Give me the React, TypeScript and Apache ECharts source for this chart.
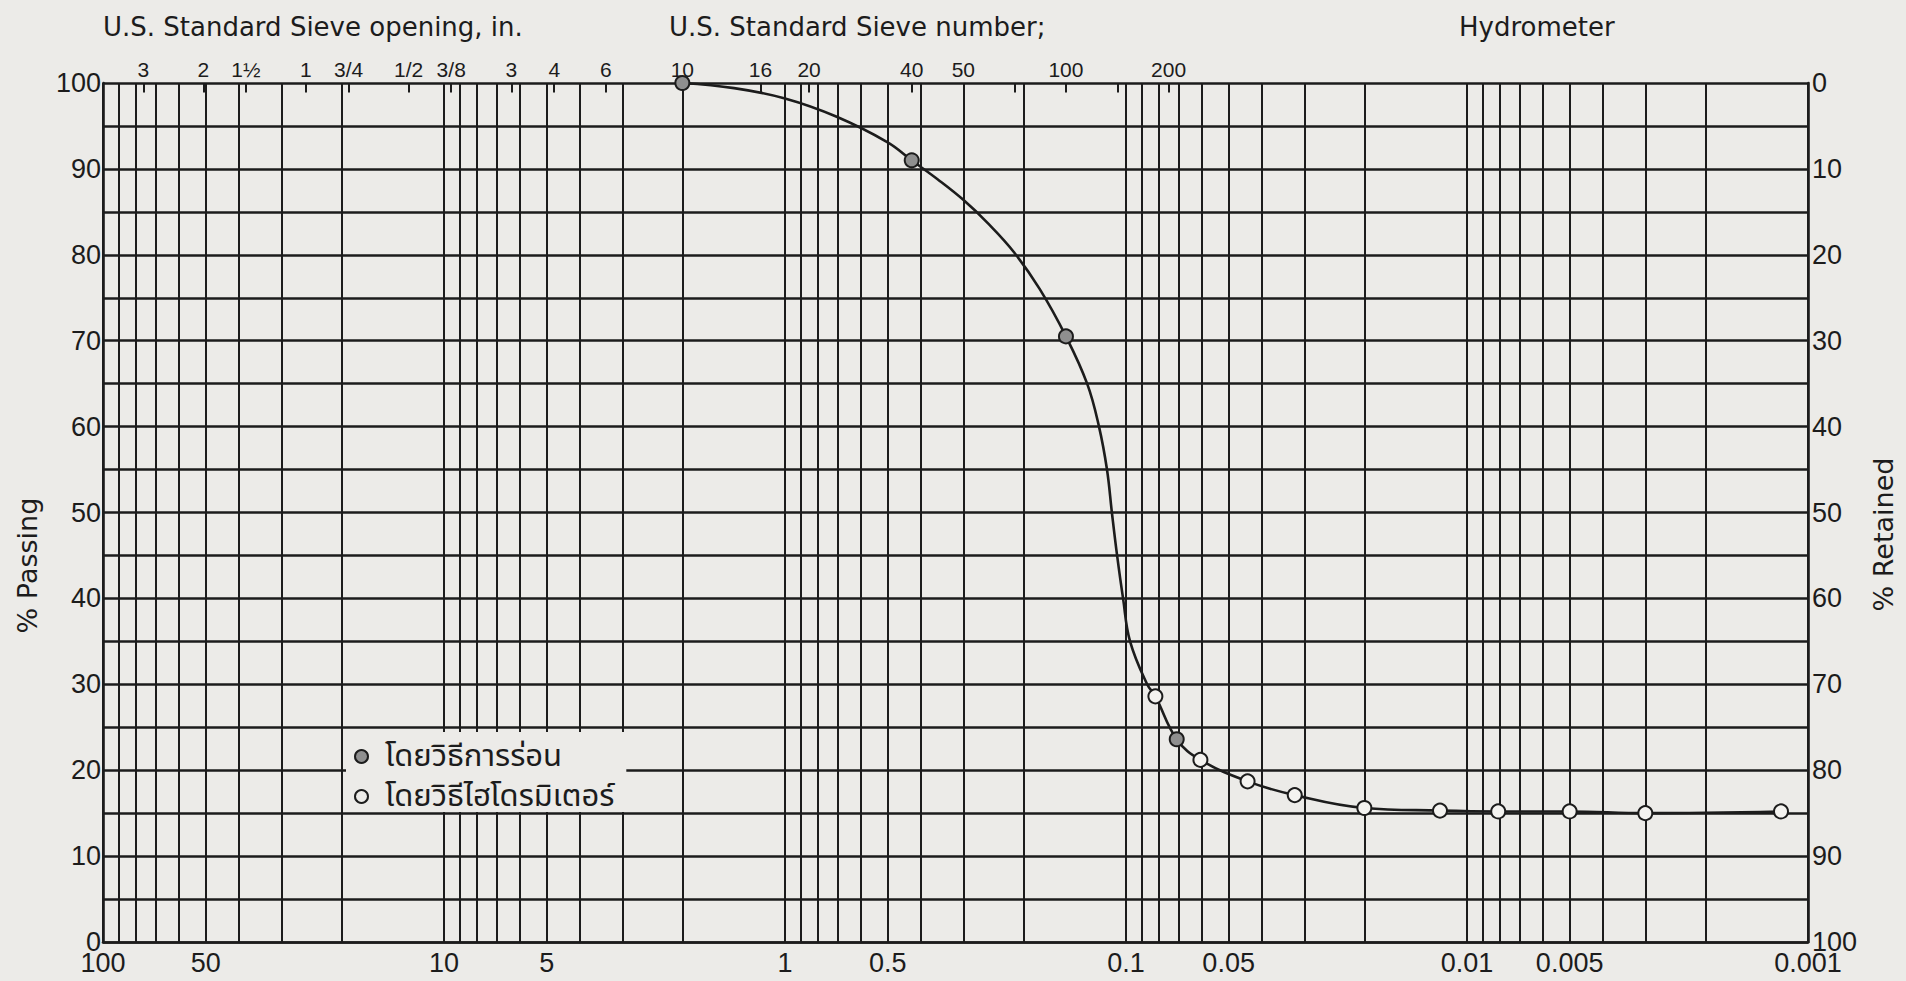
import React, { useEffect, useRef } from 'react';
import * as echarts from 'echarts';

// ---------- data ----------
// grain size (mm) vs % passing
const sieveSize = [2.0, 0.425, 0.15, 0.071];
const sievePassing = [100, 91.0, 70.5, 23.6];

const hydroSize = [0.082, 0.0605, 0.044, 0.032, 0.02, 0.012, 0.0081, 0.005, 0.003, 0.0012];
const hydroPassing = [28.6, 21.2, 18.7, 17.1, 15.6, 15.3, 15.2, 15.2, 15.0, 15.2];

// hand-drawn grading curve
const curveSize = [2.0, 1.41, 1.0, 0.708, 0.5, 0.425, 0.357, 0.3, 0.253, 0.213, 0.179, 0.15, 0.13, 0.12, 0.1137, 0.11, 0.1062, 0.102, 0.0973, 0.0867, 0.082, 0.071, 0.0605, 0.044, 0.032, 0.02, 0.012, 0.0081, 0.005, 0.003, 0.0012];
const curvePassing = [100, 99.4, 98.2, 96.1, 93.1, 91.0, 88.8, 86.4, 83.6, 80.3, 76.0, 70.5, 65.0, 60.0, 55.0, 50.0, 45.0, 40.0, 35.0, 30.0, 28.6, 23.6, 21.2, 18.7, 17.1, 15.6, 15.3, 15.2, 15.2, 15.0, 15.2];

// bottom axis (grain size, mm)
const bottomLabelValues = [100, 50, 10, 5, 1, 0.5, 0.1, 0.05, 0.01, 0.005, 0.001];
const bottomLabels = ['100', '50', '10', '5', '1', '0.5', '0.1', '0.05', '0.01', '0.005', '0.001'];

// top axis: U.S. standard sieve openings (mm) and their labels
const sieveTickValues = [76.2, 50.8, 38.1, 25.4, 19.05, 12.7, 9.525, 6.35, 4.75, 3.35, 2.0, 1.18, 0.85, 0.6, 0.425, 0.3, 0.212, 0.15, 0.106, 0.075];
const sieveTickLabels = ['3', '2', '1½', '1', '3/4', '1/2', '3/8', '3', '4', '6', '10', '16', '20', '', '40', '50', '', '100', '', '200'];

const yTicks = [0, 10, 20, 30, 40, 50, 60, 70, 80, 90, 100];

const legendSieve = 'โดยวิธีการร่อน';
const legendHydro = 'โดยวิธีไฮโดรมิเตอร์';

const titles = ['U.S. Standard Sieve opening, in.', 'U.S. Standard Sieve number;', 'Hydrometer'];

// ---------- styles ----------
const INK = '#1c1c1c';
const PAPER = '#ecebe8';
const NUM_FONT = "'Liberation Sans', Arial, sans-serif";
const TXT_FONT = "'DejaVu Sans', 'Noto Sans', sans-serif";
const THAI_FONT = "'Noto Sans Thai', 'Loma', 'Garuda', 'Norasi', 'Tlwg Typo', 'DejaVu Sans', sans-serif";

// log grid: 1..9 x 10^e between 0.001 and 100
const gridValues: number[] = [];
for (let e = -3; e <= 1; e++) {
  for (let k = 1; k <= 9; k++) gridValues.push(Number((k * Math.pow(10, e)).toPrecision(6)));
}
gridValues.push(100);

function near(a: number, b: number) {
  return Math.abs(Math.log10(a) - Math.log10(b)) < 1e-6;
}

export default function App() {
  const ref = useRef<HTMLDivElement>(null);

  useEffect(() => {
    if (!ref.current) return;
    const chart = echarts.init(ref.current, undefined, { renderer: 'svg' });

    const verticalLines = gridValues.map((v) => {
      const i = bottomLabelValues.findIndex((b) => near(b, v));
      return {
        xAxis: v,
        label:
          i >= 0
            ? {
                show: true,
                position: 'start',
                formatter: bottomLabels[i],
                fontSize: 27,
                color: INK,
                fontFamily: NUM_FONT,
                distance: 7,
              }
            : { show: false },
      };
    });

    const topTicks = sieveTickValues.map((v, i) => [
      {
        coord: [v, 100],
        label: sieveTickLabels[i]
          ? {
              show: true,
              position: 'start',
              formatter: sieveTickLabels[i],
              fontSize: 21,
              color: INK,
              fontFamily: NUM_FONT,
              distance: 3,
            }
          : { show: false },
      },
      { coord: [v, 98.9] },
    ]);

    const option: any = {
      animation: false,
      backgroundColor: PAPER,
      title: titles.map((t, i) => ({
        text: t,
        left: [98, 664, 1454][i],
        top: 9,
        textStyle: { fontSize: 26, fontWeight: 'normal', color: INK, fontFamily: TXT_FONT },
      })),
      grid: { left: 103, right: 98, top: 83, bottom: 39, containLabel: false },
      legend: {
        orient: 'vertical',
        left: 346,
        top: 732,
        padding: [9, 12, 0, 8],
        itemGap: 9,
        itemWidth: 13,
        itemHeight: 13,
        backgroundColor: PAPER,
        selectedMode: false,
        z: 6,
        textStyle: { fontSize: 31, color: INK, fontFamily: THAI_FONT, padding: [0, 0, 0, 12] },
        data: [
          { name: legendSieve, icon: 'circle', itemStyle: { color: '#8f8f8f', borderColor: INK, borderWidth: 2 } },
          { name: legendHydro, icon: 'circle', itemStyle: { color: PAPER, borderColor: INK, borderWidth: 2 } },
        ],
      },
      xAxis: {
        type: 'log',
        logBase: 10,
        min: 0.001,
        max: 100,
        inverse: true,
        axisLine: { show: true, lineStyle: { color: INK, width: 2.6 } },
        axisTick: { show: false },
        axisLabel: { show: false },
        splitLine: { show: false },
      },
      yAxis: [
        {
          type: 'value',
          min: 0,
          max: 100,
          interval: 10,
          position: 'left',
          name: '% Passing',
          nameLocation: 'middle',
          nameRotate: 90,
          nameGap: 62,
          nameTextStyle: { fontSize: 27, color: INK, fontFamily: TXT_FONT, padding: [0, 106, 0, 0] },
          axisLine: { show: true, lineStyle: { color: INK, width: 2.6 } },
          axisTick: { show: false },
          axisLabel: {
            fontSize: 27,
            color: INK,
            fontFamily: NUM_FONT,
            margin: 2,
            customValues: yTicks,
          },
          splitLine: { show: true, lineStyle: { color: INK, width: 2.5 } },
          minorTick: { show: false, splitNumber: 2 },
          minorSplitLine: { show: true, lineStyle: { color: INK, width: 2.5 } },
        },
        {
          type: 'value',
          min: 0,
          max: 100,
          interval: 10,
          inverse: true,
          position: 'right',
          name: '% Retained',
          nameLocation: 'middle',
          nameRotate: 90,
          nameGap: 62,
          nameTextStyle: { fontSize: 27, color: INK, fontFamily: TXT_FONT, padding: [0, 44, 0, 0] },
          axisLine: { show: true, lineStyle: { color: INK, width: 2.6 } },
          axisTick: { show: false },
          axisLabel: { fontSize: 27, color: INK, fontFamily: NUM_FONT, margin: 4 },
          splitLine: { show: false },
        },
      ],
      series: [
        {
          name: 'curve',
          type: 'line',
          xAxisIndex: 0,
          yAxisIndex: 0,
          data: curveSize.map((s, i) => [s, curvePassing[i]]),
          smooth: 0.4,
          symbol: 'none',
          silent: true,
          z: 8,
          lineStyle: { color: INK, width: 2.6 },
          markLine: {
            silent: true,
            z: 1,
            precision: 6,
            symbol: ['none', 'none'],
            animation: false,
            lineStyle: { color: INK, width: 2, type: 'solid' },
            emphasis: { disabled: true },
            data: [...verticalLines, ...topTicks],
          },
        },
        {
          name: legendSieve,
          type: 'scatter',
          xAxisIndex: 0,
          yAxisIndex: 0,
          z: 10,
          symbol: 'circle',
          symbolSize: 14,
          itemStyle: { color: '#8f8f8f', borderColor: INK, borderWidth: 2, opacity: 1 },
          data: sieveSize.map((s, i) => [s, sievePassing[i]]),
        },
        {
          name: legendHydro,
          type: 'scatter',
          xAxisIndex: 0,
          yAxisIndex: 0,
          z: 10,
          symbol: 'circle',
          symbolSize: 14,
          itemStyle: { color: '#f4f3f0', borderColor: INK, borderWidth: 2, opacity: 1 },
          data: hydroSize.map((s, i) => [s, hydroPassing[i]]),
        },
      ],
    };

    chart.setOption(option);
    return () => chart.dispose();
  }, []);

  return <div ref={ref} style={{ position: 'fixed', left: 0, top: 0, width: 1906, height: 981 }} />;
}
